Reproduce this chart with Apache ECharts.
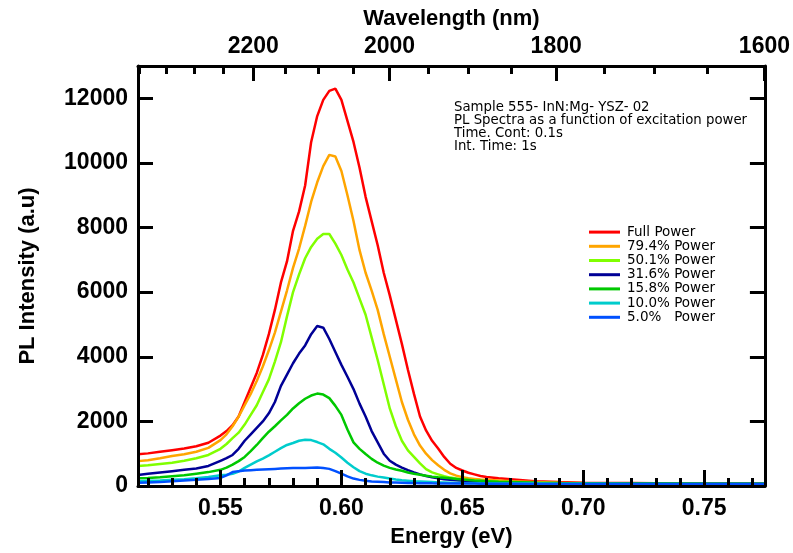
<!DOCTYPE html>
<html>
<head>
<meta charset="utf-8">
<script src="https://cdn.jsdelivr.net/npm/echarts@6/dist/echarts.min.js"></script>
<style>
html,body{margin:0;padding:0;background:#fff;}
#chart{width:793px;height:553px;}
</style>
</head>
<body>
<div id="chart"></div>
<script>
// ---- data ----
const energy = [0.5159, 0.52, 0.525, 0.53, 0.535, 0.54, 0.545,
  0.55, 0.5525, 0.555, 0.5575, 0.56, 0.5625, 0.565, 0.5675, 0.57, 0.5725, 0.575, 0.5775,
  0.58, 0.5825, 0.585, 0.5875, 0.59, 0.5925, 0.595, 0.5975, 0.60, 0.6025, 0.605, 0.6075,
  0.61, 0.6125, 0.615, 0.6175, 0.62, 0.6225, 0.625, 0.6275, 0.63, 0.6325, 0.635, 0.6375,
  0.64, 0.6425, 0.645, 0.6475, 0.65, 0.6525, 0.655, 0.6575, 0.66,
  0.665, 0.67, 0.68, 0.69, 0.70, 0.71, 0.72, 0.73, 0.74, 0.75, 0.76, 0.775];

const fullPower = [980, 1010, 1060, 1110, 1160, 1230, 1340,
  1560, 1700, 1880, 2150, 2600, 3050, 3500, 4050, 4700, 5450, 6300, 6950,
  7900, 8500, 9300, 10650, 11450, 11950, 12230, 12300, 11950, 11300, 10650, 9850,
  8950, 8200, 7450, 6600, 5900, 5150, 4400, 3600, 2850, 2150, 1720, 1400,
  1160, 900, 690, 560, 480, 410, 360, 310, 280,
  240, 210, 150, 120, 100, 95, 90, 85, 80, 80, 75, 75];
const p794 = [770, 800, 860, 930, 980, 1060, 1180,
  1420, 1600, 1850, 2150, 2500, 2850, 3250, 3700, 4200, 4750, 5400, 6050,
  6750, 7350, 8050, 8800, 9400, 9900, 10250, 10200, 9750, 9000, 8200, 7300,
  6600, 6050, 5450, 4700, 4000, 3300, 2600, 2050, 1600, 1250, 1000, 800,
  640, 500, 390, 320, 270, 240, 220, 200, 190,
  170, 150, 120, 100, 90, 85, 80, 80, 75, 75, 70, 70];
const p501 = [620, 640, 680, 720, 780, 860, 960,
  1150, 1300, 1480, 1650, 1900, 2200, 2500, 2900, 3300, 3850, 4450, 5250,
  6000, 6550, 7050, 7400, 7650, 7800, 7800, 7500, 7150, 6700, 6300, 5800,
  5300, 4600, 3900, 3150, 2400, 1850, 1400, 1100, 900, 700, 520, 420,
  360, 300, 260, 230, 200, 185, 170, 160, 150,
  130, 120, 100, 90, 85, 80, 80, 75, 75, 70, 70, 70];
const p316 = [340, 380, 420, 460, 500, 540, 620,
  780, 860, 960, 1150, 1400, 1600, 1800, 2000, 2250, 2600, 3100, 3450,
  3800, 4100, 4350, 4700, 4950, 4900, 4550, 4150, 3750, 3380, 3000, 2550,
  2150, 1700, 1350, 1000, 780, 660, 570, 490, 420, 360, 310, 270,
  240, 210, 190, 175, 160, 150, 140, 130, 120,
  110, 100, 90, 85, 80, 80, 75, 75, 70, 70, 70, 70];
const p158 = [240, 250, 270, 300, 330, 380, 430,
  500, 570, 660, 770, 900, 1080, 1270, 1480, 1680, 1850, 2030, 2200,
  2400, 2560, 2700, 2800, 2860, 2830, 2720, 2480, 2200, 1750, 1350, 1150,
  990, 840, 720, 630, 560, 510, 470, 420, 380, 350, 320, 290,
  270, 255, 240, 220, 200, 185, 170, 160, 150,
  130, 120, 100, 90, 85, 80, 80, 75, 75, 70, 70, 70];
const p100 = [150, 160, 170, 190, 210, 240, 280,
  330, 350, 380, 450, 560, 660, 760, 850, 950, 1060, 1170, 1270,
  1330, 1400, 1430, 1420, 1360, 1290, 1150, 1030, 880, 720, 580, 460,
  380, 330, 290, 260, 230, 200, 180, 165, 150, 140, 130, 120,
  110, 105, 100, 95, 90, 88, 85, 82, 80,
  80, 75, 75, 70, 70, 70, 65, 65, 65, 60, 60, 60];
const p050 = [100, 110, 120, 150, 170, 190, 220,
  250, 330, 430, 460, 480, 490, 500, 510, 520, 530, 540, 550,
  560, 560, 560, 565, 570, 555, 530, 460, 380, 300, 230, 190,
  160, 140, 130, 120, 110, 105, 100, 95, 90, 88, 85, 82,
  80, 80, 80, 75, 75, 75, 75, 70, 70,
  70, 70, 65, 65, 65, 60, 60, 60, 60, 60, 60, 60];

const seriesNames = ['Full Power', '79.4% Power', '50.1% Power', '31.6% Power', '15.8% Power', '10.0% Power', '5.0%   Power'];
const seriesValues = [fullPower, p794, p501, p316, p158, p100, p050];
const seriesColors = ['#ff0000', '#ffa500', '#80ff00', '#000096', '#00c800', '#00cccc', '#0050ff'];

const energyTicks = [0.55, 0.60, 0.65, 0.70, 0.75];
const energyMinorTicks = [0.52, 0.53, 0.54, 0.56, 0.57, 0.58, 0.59, 0.61, 0.62, 0.63, 0.64, 0.66, 0.67, 0.68, 0.69, 0.71, 0.72, 0.73, 0.74, 0.76, 0.77];
const wavelengthTicks = [2200, 2000, 1800, 1600];
const wavelengthMinorTicks = [2400, 2350, 2300, 2250, 2150, 2100, 2050, 1950, 1900, 1850, 1750, 1700, 1650];
const intensityTicks = [0, 2000, 4000, 6000, 8000, 10000, 12000];

const noteLines = ['Sample 555- InN:Mg- YSZ- 02', 'PL Spectra as a function of excitation power', 'Time. Cont: 0.1s', 'Int. Time: 1s'];

// ---- chart ----
const HC = 1239.84; // eV*nm
const E_MIN = 0.5159, E_MAX = 0.7751;
const BOLD = '"Liberation Sans", Arial, Helvetica, sans-serif';
const SMALL = '"DejaVu Sans", Verdana, sans-serif';

const chart = echarts.init(document.getElementById('chart'), null, {renderer: 'canvas'});

const axisLineOpt = () => ({show: true, onZero: false, lineStyle: {color: '#000', width: 3}});
const tickOpt = (len, vals) => ({show: true, inside: true, length: len, lineStyle: {width: 3}, customValues: vals});
const labelStyle = () => ({color: '#000', fontFamily: BOLD, fontWeight: 'bold', fontSize: 23});
const nameStyle = () => ({color: '#000', fontFamily: BOLD, fontWeight: 'bold', fontSize: 22});
const AXIS_Z = 5;

const option = {
  animation: false,
  backgroundColor: '#fff',
  grid: {left: 138, right: 28, top: 66, bottom: 65, containLabel: false},
  legend: {
    orient: 'vertical',
    left: 589,
    top: 225,
    icon: 'rect',
    itemWidth: 31,
    itemHeight: 3,
    itemGap: 0,
    padding: 0,
    data: seriesNames,
    textStyle: {fontFamily: SMALL, fontSize: 13.5, color: '#000', lineHeight: 14.2, padding: [0, 0, 0, 2]}
  },
  graphic: [{
    type: 'text',
    left: 454,
    top: 101.5,
    style: {text: noteLines.join('\n'), font: '13.3px "DejaVu Sans", Verdana, sans-serif', lineHeight: 12.8, fill: '#000'}
  }],
  xAxis: [
    {
      type: 'value', position: 'bottom', min: E_MIN, max: E_MAX, z: AXIS_Z,
      name: 'Energy (eV)', nameLocation: 'middle', nameGap: 40, nameTextStyle: nameStyle(),
      axisLine: axisLineOpt(),
      axisTick: tickOpt(16, energyTicks),
      axisLabel: Object.assign({margin: 11, customValues: energyTicks, formatter: v => v.toFixed(2)}, labelStyle()),
      splitLine: {show: false}
    },
    {
      type: 'value', position: 'bottom', min: E_MIN, max: E_MAX, z: AXIS_Z,
      axisLine: {show: false, onZero: false, lineStyle: {color: '#000'}},
      axisTick: tickOpt(8, energyMinorTicks),
      axisLabel: {show: false},
      splitLine: {show: false}
    },
    {
      type: 'value', position: 'top', min: E_MIN, max: E_MAX, z: AXIS_Z,
      name: 'Wavelength (nm)', nameLocation: 'middle', nameGap: 35, nameTextStyle: nameStyle(),
      axisLine: axisLineOpt(),
      axisTick: tickOpt(15, wavelengthTicks.map(l => HC / l)),
      axisLabel: Object.assign({margin: 8, customValues: wavelengthTicks.map(l => HC / l), formatter: v => String(Math.round(HC / v / 10) * 10)}, labelStyle()),
      splitLine: {show: false}
    },
    {
      type: 'value', position: 'top', min: E_MIN, max: E_MAX, z: AXIS_Z,
      axisLine: {show: false, onZero: false, lineStyle: {color: '#000'}},
      axisTick: tickOpt(8, wavelengthMinorTicks.map(l => HC / l)),
      axisLabel: {show: false},
      splitLine: {show: false}
    }
  ],
  yAxis: [
    {
      type: 'value', position: 'left', min: 0, max: 13000, z: AXIS_Z,
      name: 'PL Intensity (a.u)', nameLocation: 'middle', nameGap: 99, nameTextStyle: nameStyle(),
      axisLine: axisLineOpt(),
      axisTick: tickOpt(15, intensityTicks),
      axisLabel: Object.assign({margin: 10, customValues: intensityTicks, formatter: v => String(v)}, labelStyle()),
      splitLine: {show: false}
    },
    {
      type: 'value', position: 'right', min: 0, max: 13000, z: AXIS_Z,
      axisLine: axisLineOpt(),
      axisTick: tickOpt(15, intensityTicks),
      axisLabel: {show: false},
      splitLine: {show: false}
    }
  ],
  series: seriesNames.map((name, i) => ({
    name: name,
    type: 'line',
    xAxisIndex: 0,
    yAxisIndex: 0,
    showSymbol: false,
    symbol: 'none',
    color: seriesColors[i],
    lineStyle: {color: seriesColors[i], width: 2.5},
    data: energy.map((e, j) => [e, seriesValues[i][j]])
  }))
};

chart.setOption(option);
</script>
</body>
</html>
